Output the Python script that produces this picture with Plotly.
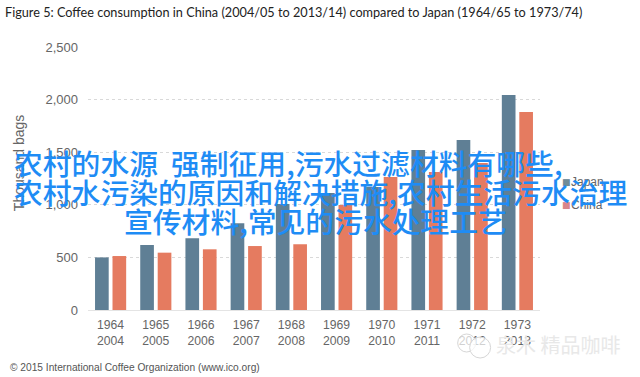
import plotly.graph_objects as go

categories = ["1964<br>2004", "1965<br>2005", "1966<br>2006", "1967<br>2007", "1968<br>2008",
              "1969<br>2009", "1970<br>2010", "1971<br>2011", "1972<br>2012", "1973<br>2013"]
japan = [500, 618, 681, 825, 1007, 1112, 1170, 1520, 1616, 2044]
china = [513, 545, 577, 608, 625, 998, 1265, 1312, 1397, 1882]
y_ticks = [0, 500, 1000, 1500, 2000, 2500]
y_labels = ["0", "500", "1,000", "1,500", "2,000", "2,500"]
title_text = "Figure 5: Coffee consumption in China (2004/05 to 2013/14) compared to Japan (1964/65 to 1973/74)"
overlay_lines = ["农村的水源&nbsp;&nbsp;强制征用,污水过滤材料有哪些,",
                 "农村水污染的原因和解决措施,农村生活污水治理",
                 "宣传材料,常见的污水处理工艺"]
overlay_x = [14, 14, 125]
overlay_y = [162, 191, 220]

W, H = 640, 377
L, R, T, B = 87.5, 540.5, 47, 310
GRAY = "#666666"
JAPAN_C = "#5f7f95"
CHINA_C = "#e57b60"
BLUE = "#1e8cf5"

fig = go.Figure()
fig.add_bar(name="Japan", x=categories, y=japan, marker_color=JAPAN_C, marker_line_width=0)
fig.add_bar(name="China", x=categories, y=china, marker_color=CHINA_C, marker_line_width=0)

def px(x): return (x - L) / (R - L)
def py(y): return (B - y) / (B - T)

def note(text, x, y, xanchor="left", **kw):
    font = kw.pop("font")
    if xanchor == "left":
        x -= 3
    return dict(text=text, x=px(x), y=py(y), xref="paper", yref="paper", xanchor=xanchor, yanchor="middle",
                showarrow=False, font=font, **kw)

ann = [
    note(title_text, 5.5, 12, font=dict(family="Lato", size=12.7, color="#222222")),
    note("Thousand bags", 18, 162.5, xanchor="center", textangle=-90,
         font=dict(family="Liberation Sans", size=14, color=GRAY)),
    note("© 2015 International Coffee Organization (www.ico.org)", 10, 367.5,
         font=dict(family="Liberation Sans", size=10.2, color="#555555")),
    note("■", 567, 182, xanchor="center", font=dict(family="DejaVu Sans", size=9, color="#6f8b98")),
    note("Japan", 573, 182, font=dict(family="Liberation Sans", size=12, color=GRAY)),
    note("■", 567, 205, xanchor="center", font=dict(family="DejaVu Sans", size=9, color="#d9858a")),
    note("China", 573, 205, font=dict(family="Liberation Sans", size=12, color=GRAY)),
    note("泉木 精品咖啡", 497, 344, font=dict(family="Noto Sans CJK SC", size=20, color="#e8e8e8")),
]
for line, xx, yy in zip(overlay_lines, overlay_x, overlay_y):
    ann.append(note(line, xx, yy, font=dict(family="Noto Sans CJK SC", size=28.8, color=BLUE, weight=500)))

shapes = [
    dict(type="circle", xref="paper", yref="paper", x0=px(458), x1=px(476), y0=py(352), y1=py(334),
         line=dict(color="#d6d6d6", width=1), fillcolor="rgba(255,255,255,0.7)", layer="above"),
    dict(type="circle", xref="paper", yref="paper", x0=px(470), x1=px(491), y0=py(358), y1=py(337),
         line=dict(color="#d6d6d6", width=1), fillcolor="rgba(255,255,255,0.7)", layer="above"),
]

fig.update_layout(
    width=W, height=H, autosize=False, showlegend=False,
    paper_bgcolor="white", plot_bgcolor="white",
    margin=dict(l=L, r=W - R, t=T, b=H - B),
    barmode="group", bargap=0.227, bargroupgap=0.217,
    annotations=ann, shapes=shapes,
    font=dict(family="Liberation Sans", color=GRAY),
    xaxis=dict(showgrid=False, showline=True, linecolor="#e4e4e4", linewidth=1,
               ticks="outside", ticklen=3, tickcolor="white",
               tickfont=dict(size=12.2, color=GRAY), tickangle=0),
    yaxis=dict(range=[0, 2500], tickvals=y_ticks, ticktext=y_labels, showgrid=True,
               gridcolor="#d9d9d9", griddash="dot", gridwidth=1, zeroline=False, ticks="",
               ticklabelstandoff=9, tickfont=dict(size=13, color=GRAY)),
)
fig.write_html("out.html", post_script="document.body.style.margin='0';",
               config=dict(displayModeBar=False))
